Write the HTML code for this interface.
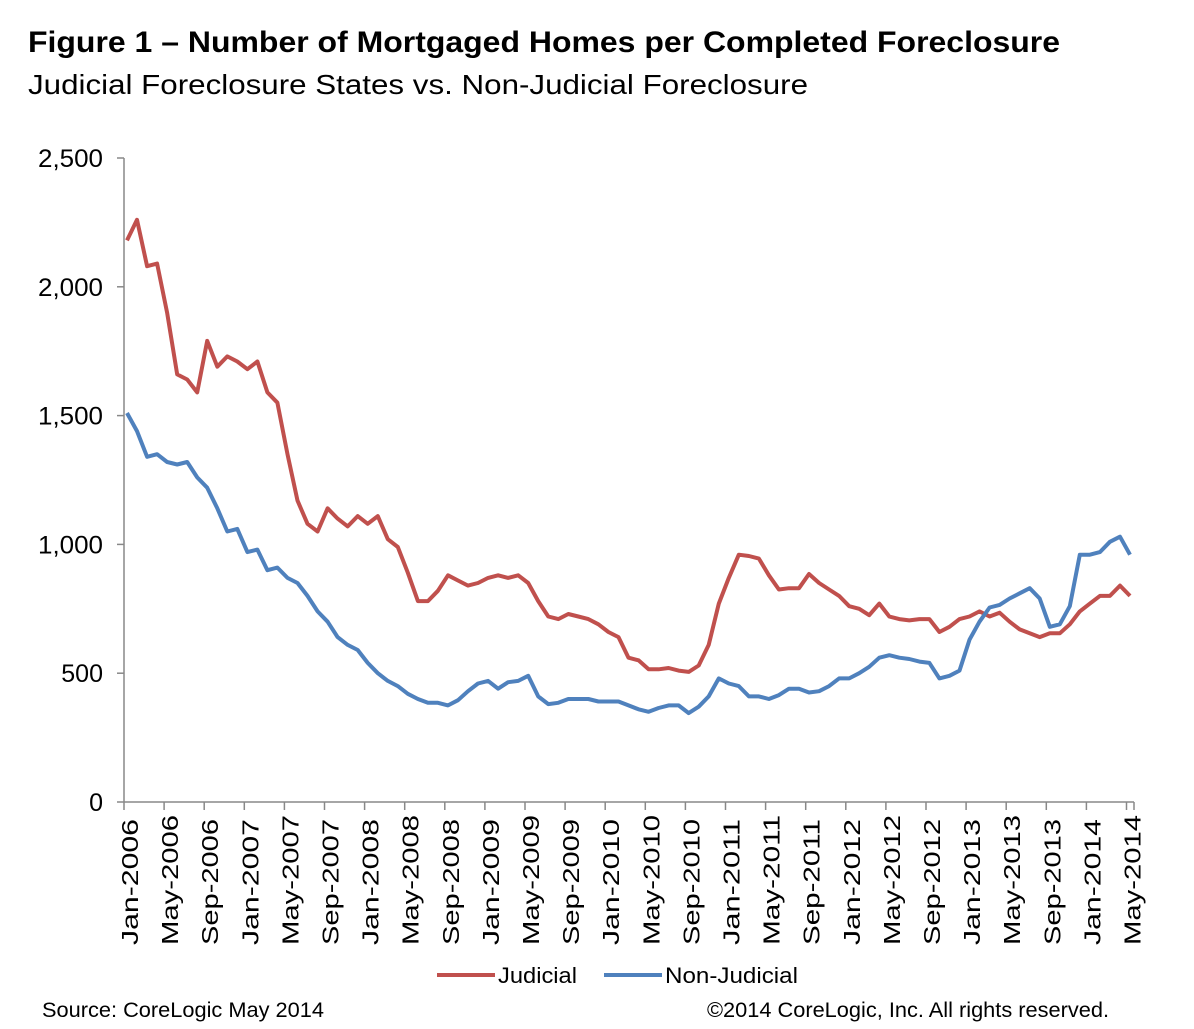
<!DOCTYPE html>
<html><head><meta charset="utf-8"><style>
body{margin:0;background:#fff;width:1194px;height:1024px;overflow:hidden;font-family:"Liberation Sans",Arial,sans-serif}
</style></head><body>
<svg id="s" width="1194" height="1024" xmlns="http://www.w3.org/2000/svg" font-family="Liberation Sans, Arial, sans-serif">
<text x="28" y="52" font-size="30" font-weight="bold" fill="#000" textLength="1032" lengthAdjust="spacingAndGlyphs">Figure 1 – Number of Mortgaged Homes per Completed Foreclosure</text>
<text x="28" y="94" font-size="28" fill="#000" textLength="780" lengthAdjust="spacingAndGlyphs">Judicial Foreclosure States vs. Non-Judicial Foreclosure</text>
<g id="ax" stroke="#888" stroke-width="1.5"></g>
<g id="lab" font-size="23" fill="#000"></g>
<polyline id="j" fill="none" stroke="#c0504d" stroke-width="4" stroke-linejoin="round"/>
<polyline id="n" fill="none" stroke="#4f81bd" stroke-width="4" stroke-linejoin="round"/>
<line x1="437" y1="975" x2="495" y2="975" stroke="#c0504d" stroke-width="4"/>
<text x="498" y="983" font-size="22" textLength="79" lengthAdjust="spacingAndGlyphs">Judicial</text>
<line x1="604" y1="975" x2="662" y2="975" stroke="#4f81bd" stroke-width="4"/>
<text x="665" y="983" font-size="22" textLength="133" lengthAdjust="spacingAndGlyphs">Non-Judicial</text>
<text x="42" y="1017" font-size="21" textLength="282" lengthAdjust="spacingAndGlyphs">Source: CoreLogic  May 2014</text>
<text x="707" y="1017" font-size="21" textLength="402" lengthAdjust="spacingAndGlyphs">©2014 CoreLogic, Inc. All rights reserved.</text>
</svg>
<script>
var J=[2180,2260,2080,2090,1900,1660,1640,1590,1790,1690,1730,1710,1680,1710,1590,1550,1350,1170,1080,1050,1140,1100,1070,1110,1080,1110,1020,990,890,780,780,820,880,860,840,850,870,880,870,880,850,780,720,710,730,720,710,690,660,640,560,550,515,515,520,510,505,530,610,770,870,960,955,945,880,825,830,830,885,850,825,800,760,750,725,770,720,710,705,710,710,660,680,710,720,740,720,735,700,670,655,640,655,655,690,740,770,800,800,840,800];
var N=[1510,1440,1340,1350,1320,1310,1320,1260,1220,1140,1050,1060,970,980,900,910,870,850,800,740,700,640,610,590,540,500,470,450,420,400,385,385,375,395,430,460,470,440,465,470,490,410,380,385,400,400,400,390,390,390,375,360,350,365,375,375,345,370,410,480,460,450,410,410,400,415,440,440,425,430,450,480,480,500,525,560,570,560,555,545,540,480,490,510,630,700,755,765,760,790,810,830,790,680,690,760,960,960,970,1010,1030,960];
N.splice(88,1);
var x0=127,dx=10.03,y0=802,sy=644/2500;
function pts(a){return a.map(function(v,i){return (x0+i*dx).toFixed(1)+','+(y0-v*sy).toFixed(1)}).join(' ')}
document.getElementById('j').setAttribute('points',pts(J));
document.getElementById('n').setAttribute('points',pts(N));
var ax=document.getElementById('ax'),lab=document.getElementById('lab'),h='',l='';
h+='<line x1="124" y1="158" x2="124" y2="802"/><line x1="124" y1="802" x2="1134" y2="802"/>';
for(var k=0;k<=5;k++){var y=802-k*128.8;h+='<line x1="117" y1="'+y+'" x2="124" y2="'+y+'"/>';
var t=(k==0?'0':(k*500).toLocaleString('en-US'));
l+='<text x="103" y="'+(y+9)+'" text-anchor="end" font-size="25"'+(t.length>3?' textLength="65" lengthAdjust="spacingAndGlyphs"':'')+'>'+t+'</text>';}
var m=['Jan','May','Sep'];
for(var i=0;i<=25;i++){var x=124+i*40.1;h+='<line x1="'+x+'" y1="802" x2="'+x+'" y2="810"/>';
var yr=2006+Math.floor(i/3);l+='<text transform="translate('+(x+14)+',945) rotate(-90)" textLength="'+(i%3==1?130:126)+'" lengthAdjust="spacingAndGlyphs">'+m[i%3]+'-'+yr+'</text>';}
h+='<line x1="1134" y1="802" x2="1134" y2="810"/>';
ax.innerHTML=h;lab.innerHTML=l;
</script>
</body></html>
